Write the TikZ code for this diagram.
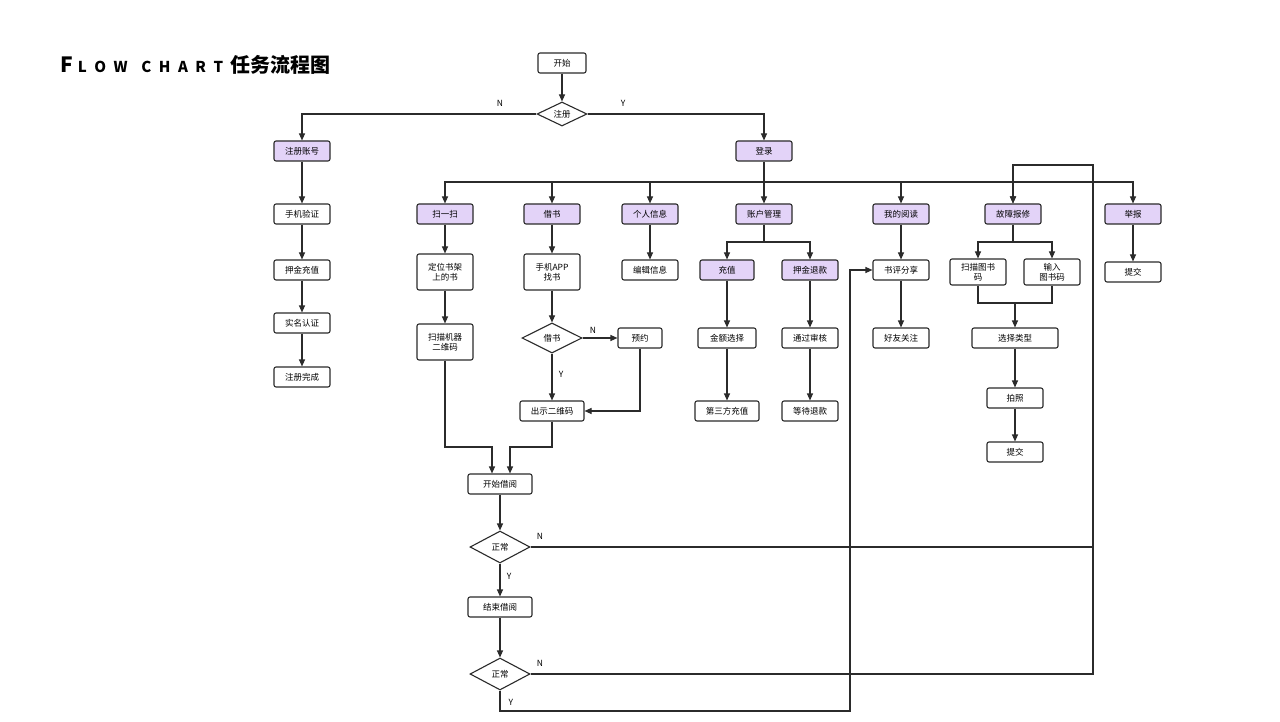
\documentclass[tikz,border=0pt]{standalone}
\usepackage{fontspec}
\setmainfont{Noto Sans CJK SC}
\usetikzlibrary{arrows.meta,shapes.geometric}
\definecolor{lila}{HTML}{E3D3F8}
\definecolor{ink}{HTML}{2B2B2B}
\tikzset{
  box/.style={draw=ink,line width=1.1pt,rounded corners=2pt,fill=white,minimum width=56pt,minimum height=20pt,inner sep=1pt,align=center,font=\fontsize{8.5}{10}\selectfont},
  hbox/.style={box,fill=lila},
  dec/.style={diamond,draw=ink,line width=1.1pt,fill=white,aspect=2,inner sep=0pt,minimum width=60pt,minimum height=30pt,font=\fontsize{8.5}{10}\selectfont},
  flow/.style={draw=ink,line width=1.1pt,-{Triangle[length=7pt,width=6pt]}},
  line/.style={draw=ink,line width=1.1pt},
  yn/.style={font=\fontsize{8.5}{10}\selectfont}
}
\begin{document}
\begin{tikzpicture}[x=1pt,y=-1pt]
\useasboundingbox[fill=white] (0,0) rectangle (1280,722);
\node[anchor=west,inner sep=0pt,font=\bfseries] (title) at (60,65) {{\fontsize{21}{24}\selectfont F}{\fontsize{15}{24}\selectfont \,\,L\,\,\,O\,\,\,W\ \ \ \ C\,\,\,H\,\,\,A\,\,\,R\,\,\,T}\ \ \ {\fontsize{20}{24}\selectfont 任务流程图}};
% top
\node[box,minimum width=48pt] (start) at (562,63) {开始};
\node[dec,minimum width=50pt,minimum height=24pt] (reg) at (562,114) {注册};
\node[hbox] (regacc) at (302,151) {注册账号};
\node[hbox] (login) at (764,151) {登录};
\node[box] (phone) at (302,214) {手机验证};
\node[box] (depo) at (302,270) {押金充值};
\node[box] (real) at (302,323) {实名认证};
\node[box] (done) at (302,377) {注册完成};
% modules
\node[hbox] (scan) at (445,214) {扫一扫};
\node[hbox] (borrow) at (552,214) {借书};
\node[hbox] (info) at (650,214) {个人信息};
\node[hbox] (acct) at (764,214) {账户管理};
\node[hbox] (read) at (901,214) {我的阅读};
\node[hbox] (fault) at (1013,214) {故障报修};
\node[hbox] (report) at (1133,214) {举报};
% scan / borrow
\node[box,minimum height=36pt] (locate) at (445,272) {定位书架\\上的书};
\node[box,minimum height=36pt] (scanqr) at (445,342) {扫描机器\\二维码};
\node[box,minimum height=36pt] (app) at (552,272) {手机APP\\找书};
\node[dec] (can) at (552,338) {借书};
\node[box,minimum width=44pt] (resv) at (640,338) {预约};
\node[box,minimum width=64pt] (showqr) at (552,411) {出示二维码};
\node[box] (edit) at (650,270) {编辑信息};
% account
\node[hbox,minimum width=54pt] (charge) at (727,270) {充值};
\node[hbox] (refund) at (810,270) {押金退款};
\node[box,minimum width=58pt] (amount) at (727,338) {金额选择};
\node[box] (audit) at (810,338) {通过审核};
\node[box,minimum width=64pt] (third) at (727,411) {第三方充值};
\node[box] (wait) at (810,411) {等待退款};
% reading
\node[box] (review) at (901,270) {书评分享};
\node[box] (friend) at (901,338) {好友关注};
% fault
\node[box,minimum height=26pt] (scancode) at (978,272) {扫描图书\\码};
\node[box,minimum height=26pt] (inputcode) at (1052,272) {输入\\图书码};
\node[box,minimum width=86pt] (type) at (1015,338) {选择类型};
\node[box] (photo) at (1015,398) {拍照};
\node[box] (submitA) at (1015,452) {提交};
\node[box] (submitB) at (1133,272) {提交};
% borrowing
\node[box,minimum width=64pt] (bstart) at (500,484) {开始借阅};
\node[dec,minimum height=32pt] (ok1) at (500,547) {正常};
\node[box,minimum width=64pt] (bend) at (500,607) {结束借阅};
\node[dec,minimum height=32pt] (ok2) at (500,674) {正常};
\coordinate (bus) at (764,182);
\coordinate (accsp) at (764,242);
\coordinate (fltsp) at (1013,242);
\coordinate (merge) at (1015,303);
\coordinate (inL) at (492,447);
\coordinate (inR) at (510,447);
\coordinate (nBus) at (1093,547);
\coordinate (nTop) at (1093,165);
\coordinate (yEnd) at (500,711);
\coordinate (yUp) at (850,270);
% connectors
\draw[flow] (start) -- (reg);
\draw[flow] (reg.west) -| (regacc);
\draw[flow] (reg.east) -| (login);
\node[yn] at (500,103) {N};
\node[yn] at (623,103) {Y};
\draw[flow] (regacc) -- (phone);
\draw[flow] (phone) -- (depo);
\draw[flow] (depo) -- (real);
\draw[flow] (real) -- (done);
\draw[line] (login) -- (bus);
\draw[flow] (bus) -| (scan);
\draw[flow] (bus) -| (report);
\foreach \m in {borrow,info,acct,read,fault}
  \draw[flow] (\m.north |- bus) -- (\m);
\draw[flow] (scan) -- (locate);
\draw[flow] (locate) -- (scanqr);
\draw[flow] (borrow) -- (app);
\draw[flow] (app) -- (can);
\draw[flow] (can) -- node[yn,pos=.45,right=3pt]{Y} (showqr);
\draw[flow] (can) -- node[yn,pos=.3,above=1pt]{N} (resv);
\draw[flow] (resv) |- (showqr);
\draw[flow] (info) -- (edit);
\draw[line] (acct) -- (accsp);
\draw[flow] (accsp) -| (charge);
\draw[flow] (accsp) -| (refund);
\draw[flow] (charge) -- (amount);
\draw[flow] (amount) -- (third);
\draw[flow] (refund) -- (audit);
\draw[flow] (audit) -- (wait);
\draw[flow] (read) -- (review);
\draw[flow] (review) -- (friend);
\draw[line] (fault) -- (fltsp);
\draw[flow] (fltsp) -| (scancode);
\draw[flow] (fltsp) -| (inputcode);
\draw[line] (scancode) |- (merge) -| (inputcode);
\draw[flow] (merge) -- (type);
\draw[flow] (type) -- (photo);
\draw[flow] (photo) -- (submitA);
\draw[flow] (report) -- (submitB);
\draw[flow] (scanqr) |- (inL) -- (inL |- bstart.north);
\draw[flow] (showqr) |- (inR) -- (inR |- bstart.north);
\draw[flow] (bstart) -- (ok1);
\draw[flow] (ok1) -- node[yn,pos=.4,right=3pt]{Y} (bend);
\draw[flow] (bend) -- (ok2);
\draw[flow] (ok1.east) -- (nBus) -- (nTop) -| (fault);
\draw[line] (ok2.east) -| (nBus);
\node[yn] at (540,536) {N};
\node[yn] at (540,663) {N};
\draw[flow] (ok2.south) -- (yEnd) -| (yUp) -- (review);
\node[yn] at (511,702) {Y};
\end{tikzpicture}
\end{document}
